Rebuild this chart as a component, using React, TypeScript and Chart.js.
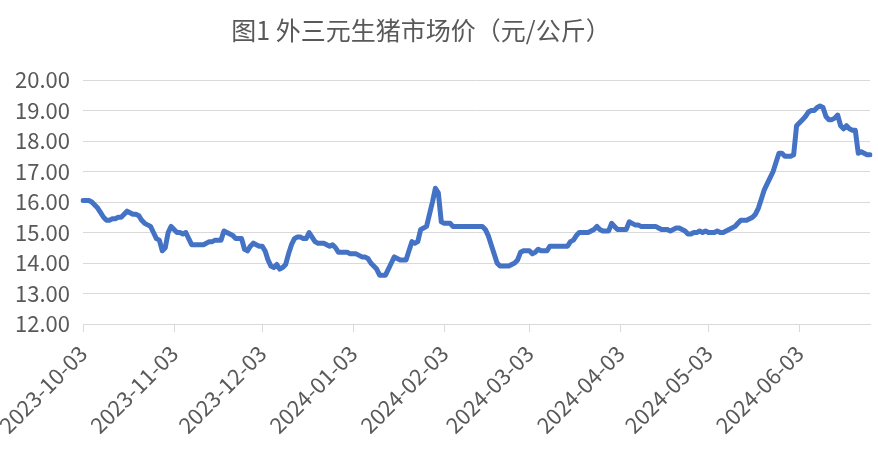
import { useEffect, useRef } from "react";
import { Chart, registerables } from "chart.js";

Chart.register(...registerables);

const TITLE = "图1 外三元生猪市场价（元/公斤）";
const START = { year: 2023, month: 9, day: 3 };

// month tick labels shown on the x axis
const monthTicks = [
    "2023-10-03", "2023-11-03", "2023-12-03", "2024-01-03", "2024-02-03",
    "2024-03-03", "2024-04-03", "2024-05-03", "2024-06-03",
];

// daily prices (元/公斤)
const octPrices = [
    16.05, 16.05, 16.05, 16.0, 15.9, 15.8, 15.65, 15.5, 15.4, 15.4, 15.45, 15.45, 15.5, 15.5, 15.6,
    15.7, 15.65, 15.6, 15.6, 15.55, 15.4, 15.3, 15.25, 15.2, 15.0, 14.8, 14.75, 14.4, 14.5,
];
const novPrices = [
    15.0, 15.2, 15.1, 15.0, 15.0, 14.95, 15.0, 14.8, 14.6, 14.6, 14.6, 14.6, 14.6, 14.65, 14.7,
    14.7, 14.75, 14.75, 14.75, 15.05, 15.0, 14.95, 14.9, 14.8, 14.8, 14.8, 14.45, 14.4, 14.55, 14.65,
];
const decPrices = [
    14.6, 14.55, 14.55, 14.4, 14.1, 13.9, 13.85, 13.95, 13.8, 13.85, 13.95, 14.3, 14.6, 14.8, 14.85,
    14.85, 14.8, 14.8, 15.0, 14.85, 14.7, 14.65, 14.65, 14.65, 14.6, 14.55, 14.6, 14.5, 14.35, 14.35, 14.35,
];
const janPrices = [
    14.35, 14.3, 14.3, 14.3, 14.25, 14.2, 14.2, 14.15, 14.0, 13.9, 13.8, 13.6, 13.6, 13.6, 13.8,
    14.0, 14.2, 14.15, 14.1, 14.1, 14.1, 14.4, 14.7, 14.65, 14.7, 15.1, 15.15, 15.2, 15.6, 16.0, 16.45,
];
const febPrices = [
    16.3, 15.35, 15.3, 15.3, 15.3, 15.2, 15.2, 15.2, 15.2, 15.2, 15.2, 15.2, 15.2, 15.2, 15.2,
    15.2, 15.1, 14.9, 14.6, 14.3, 14.0, 13.9, 13.9, 13.9, 13.9, 13.95, 14.0, 14.1, 14.35,
];
const marPrices = [
    14.4, 14.4, 14.4, 14.3, 14.35, 14.45, 14.4, 14.4, 14.4, 14.55, 14.55, 14.55, 14.55, 14.55, 14.55,
    14.55, 14.7, 14.75, 14.9, 15.0, 15.0, 15.0, 15.0, 15.05, 15.1, 15.2, 15.1, 15.05, 15.05, 15.05, 15.3,
];
const aprPrices = [
    15.2, 15.1, 15.1, 15.1, 15.1, 15.35, 15.3, 15.25, 15.25, 15.2, 15.2, 15.2, 15.2, 15.2, 15.2,
    15.15, 15.1, 15.1, 15.1, 15.05, 15.1, 15.15, 15.15, 15.1, 15.05, 14.95, 14.95, 15.0, 15.0, 15.05,
];
const mayPrices = [
    15.0, 15.05, 15.0, 15.0, 15.0, 15.05, 15.0, 15.0, 15.05, 15.1, 15.15, 15.2, 15.3, 15.4, 15.4,
    15.4, 15.45, 15.5, 15.6, 15.8, 16.1, 16.4, 16.6, 16.8, 17.0, 17.3, 17.6, 17.6, 17.5, 17.5, 17.5,
];
const junPrices = [
    17.55, 18.5, 18.6, 18.7, 18.8, 18.95, 19.0, 19.0, 19.1, 19.15, 19.1, 18.8, 18.7, 18.7, 18.75,
    18.85, 18.5, 18.4, 18.5, 18.4, 18.35, 18.35, 17.6, 17.65, 17.6, 17.55, 17.55,
];

const prices = [
    ...octPrices, ...novPrices, ...decPrices, ...janPrices, ...febPrices,
    ...marPrices, ...aprPrices, ...mayPrices, ...junPrices,
];

const dayLabels = prices.map((_, i) =>
    new Date(Date.UTC(START.year, START.month, START.day + i)).toISOString().slice(0, 10)
);

const GREY_TEXT = "#595959";
const GRID = "#d9d9d9";
const FONT = '"Noto Sans CJK SC", "Noto Sans", sans-serif';

const titlePlugin = {
    id: "excelTitle",
    afterDraw(chart: Chart) {
        const { ctx } = chart;
        ctx.save();
        ctx.font = `25px ${FONT}`;
        ctx.fillStyle = GREY_TEXT;
        ctx.textAlign = "center";
        ctx.textBaseline = "middle";
        ctx.fillText(TITLE, 421, 30);
        ctx.restore();
    },
};

const isMonthTick = (i: number) => monthTicks.includes(dayLabels[i]);

const App = () => {
    const canvasRef = useRef<HTMLCanvasElement>(null);

    useEffect(() => {
        if (!canvasRef.current) return;
        const chart = new Chart(canvasRef.current, {
            type: "line",
            data: {
                labels: dayLabels,
                datasets: [
                    {
                        data: prices,
                        borderColor: "#4472C4",
                        borderWidth: 5,
                        pointRadius: 0,
                        tension: 0,
                        borderJoinStyle: "round",
                        borderCapStyle: "round",
                    },
                ],
            },
            options: {
                animation: false,
                responsive: true,
                maintainAspectRatio: false,
                layout: { padding: { top: 80, right: 8, left: 0, bottom: 0 } },
                plugins: {
                    legend: { display: false },
                    tooltip: { enabled: false },
                },
                scales: {
                    x: {
                        type: "category",
                        afterFit: (scale) => {
                            scale.height = 149;
                            scale.paddingLeft = 0;
                            scale.paddingRight = 0;
                        },
                        border: { color: GRID, width: 1 },
                        grid: {
                            drawOnChartArea: false,
                            tickLength: 8,
                            tickColor: (ctx) => (isMonthTick(ctx.index) ? GRID : "rgba(0,0,0,0)"),
                        },
                        ticks: {
                            autoSkip: false,
                            minRotation: 45,
                            maxRotation: 45,
                            padding: 8,
                            color: GREY_TEXT,
                            font: { family: FONT, size: 22 },
                            callback: (_v, i) => (isMonthTick(i) ? dayLabels[i] : ""),
                        },
                    },
                    y: {
                        min: 12,
                        max: 20,
                        afterFit: (scale) => {
                            scale.width = 83;
                        },
                        border: { display: false },
                        grid: { color: GRID, lineWidth: 1, drawTicks: false },
                        ticks: {
                            stepSize: 1,
                            padding: 13,
                            color: GREY_TEXT,
                            font: { family: FONT, size: 22 },
                            callback: (v) => Number(v).toFixed(2),
                        },
                    },
                },
            },
            plugins: [titlePlugin],
        });
        return () => {
            chart.destroy();
        };
    }, []);

    return (
        <div style={{ position: "fixed", left: 0, top: 0, width: "878px", height: "473px", background: "#fff" }}>
            <canvas ref={canvasRef}></canvas>
        </div>
    );
};

export default App;
